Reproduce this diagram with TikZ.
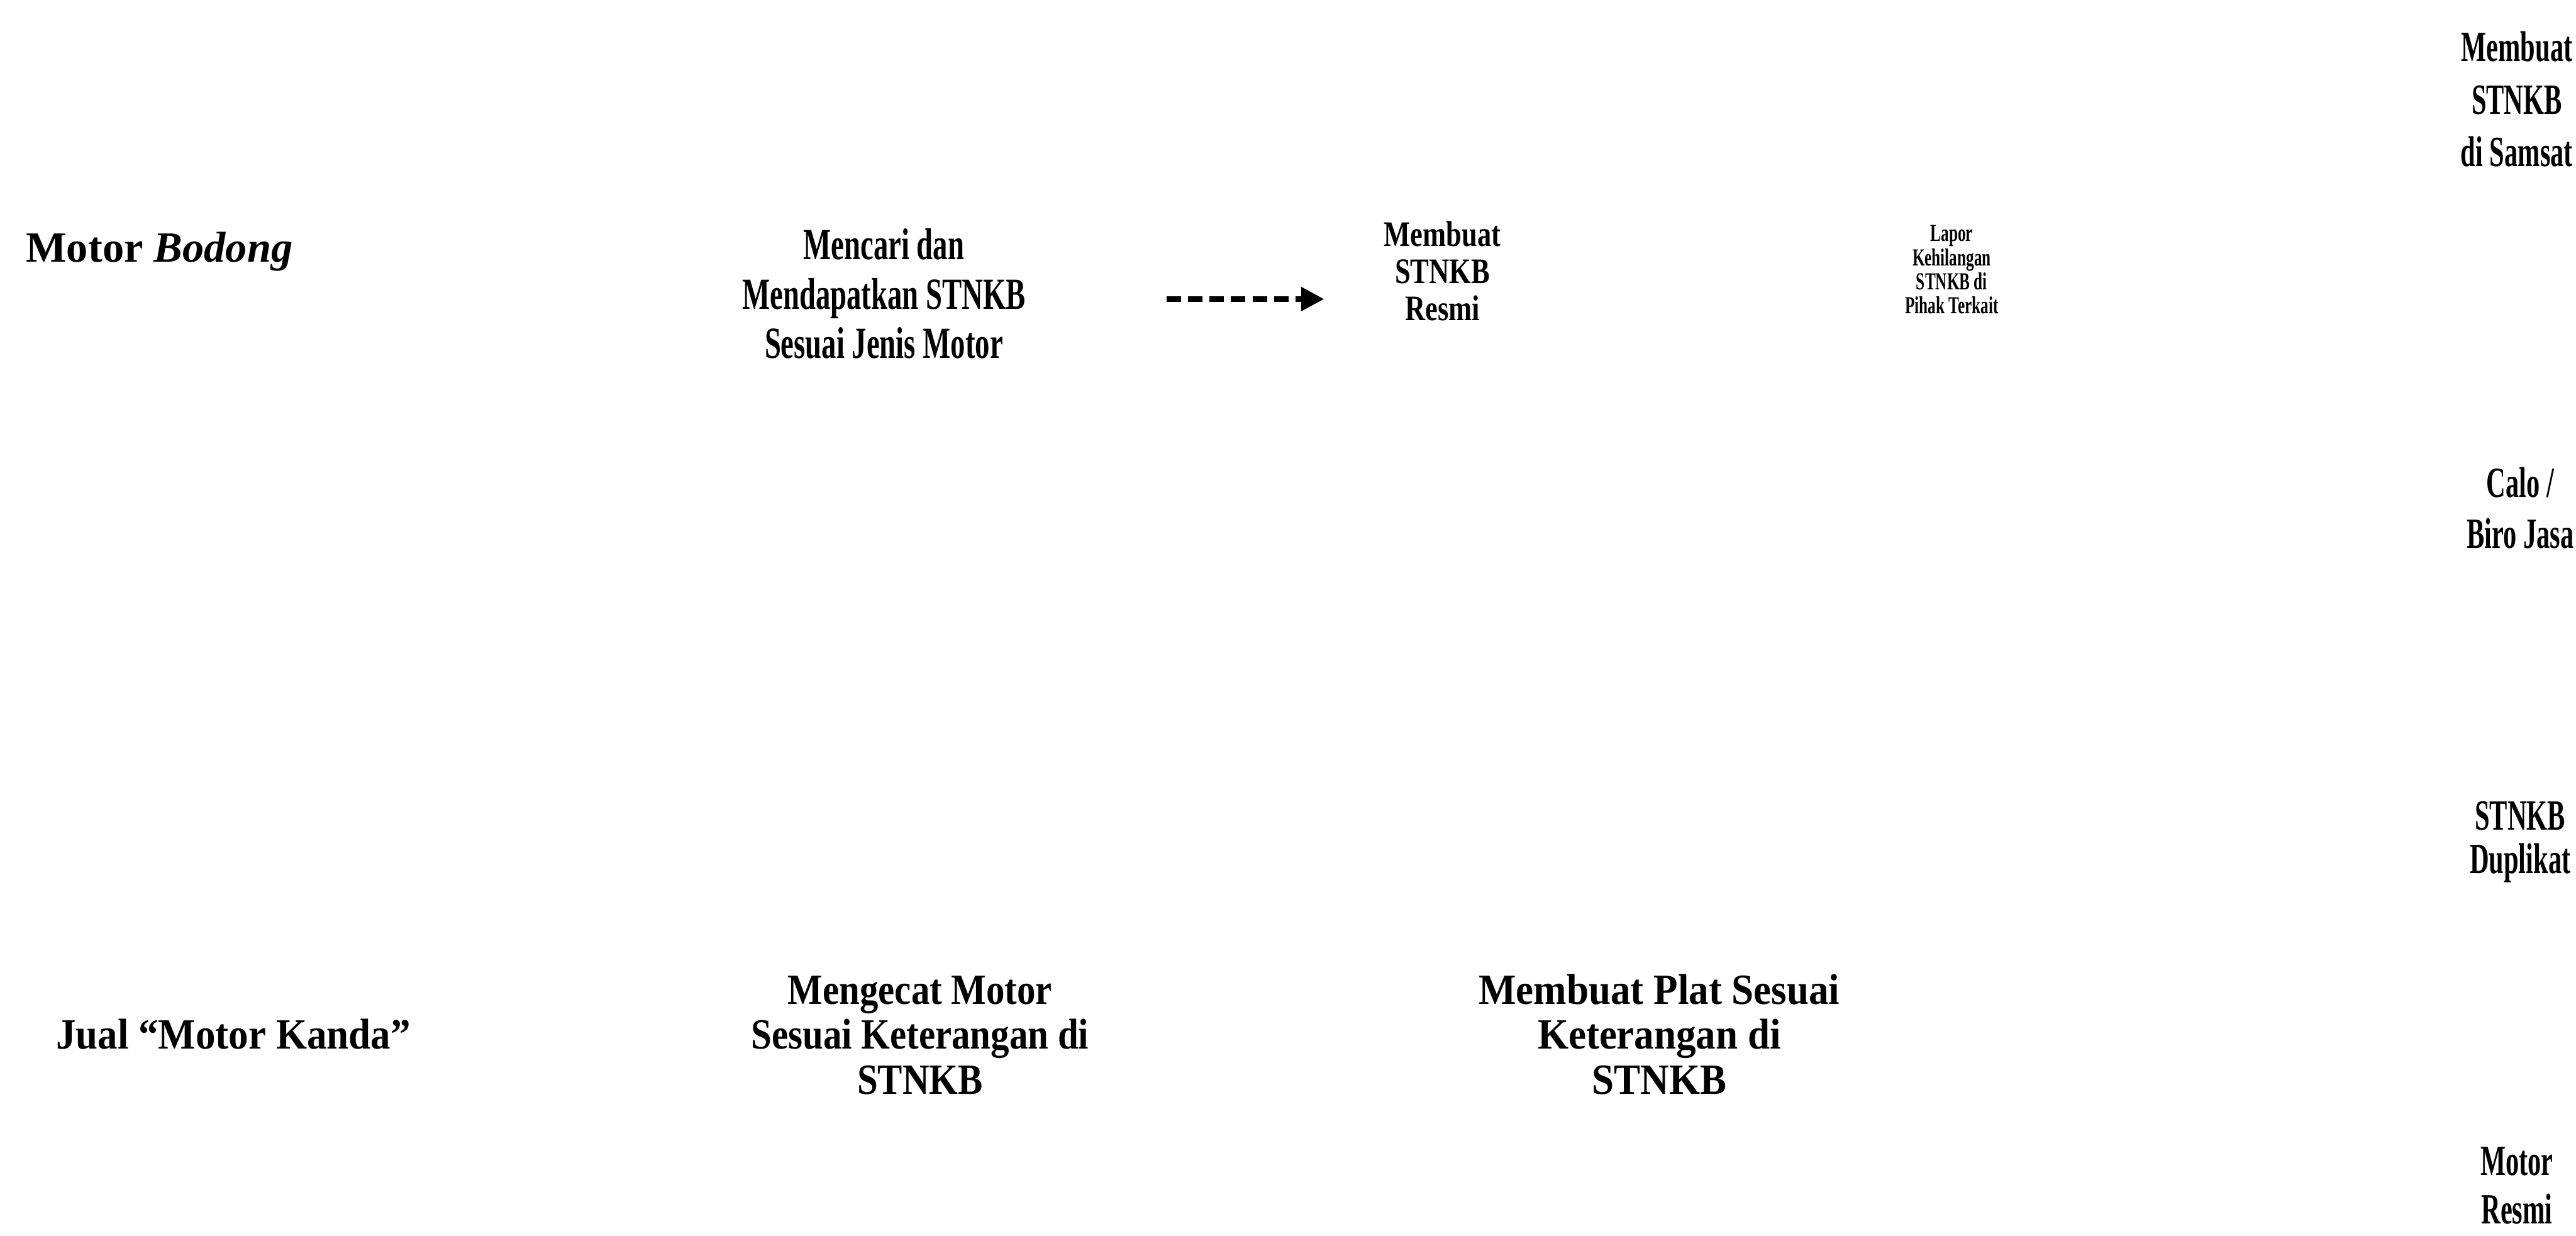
\documentclass[tikz,border=0pt]{standalone}
\usepackage{fontspec}
\usepackage{graphicx}
\setmainfont{Liberation Serif}
\usetikzlibrary{arrows.meta}

% horizontally condensed, centred block of lines
\newcommand{\sqz}[2]{\scalebox{#1}[1]{\begin{tabular}{@{}c@{}}#2\end{tabular}}}

\tikzset{
  lbl/.style={inner sep=0pt, text=black, font=\bfseries},
  flow/.style={line width=1.8pt, dash pattern=on 5pt off 2.5pt,
    -{Triangle[length=8pt,width=8pt]}}
}

\begin{document}
\begin{tikzpicture}[x=0.02011cm, y=-0.02011cm]
  \useasboundingbox[fill=white] (0,0) rectangle (1568,752);

  % upper row
  \node[lbl, font=\bfseries\fontsize{15}{18}\selectfont] (bodong) at (97,153)
    {Motor \textit{Bodong}};
  \node[lbl, font=\bfseries\fontsize{15.5}{17.2}\selectfont] (cari) at (538,182)
    {\sqz{0.66}{Mencari dan\\Mendapatkan STNKB\\Sesuai Jenis Motor}};
  \node[lbl, font=\bfseries\fontsize{12.5}{12.9}\selectfont] (resmi) at (878,168)
    {\sqz{0.78}{Membuat\\STNKB\\Resmi}};
  \node[lbl, font=\bfseries\fontsize{8.5}{8.3}\selectfont] (lapor) at (1188,166)
    {\sqz{0.65}{Lapor\\Kehilangan\\STNKB di\\Pihak Terkait}};

  \coordinate (a0) at (710,182);
  \coordinate (a1) at (806,182);
  \draw[flow] (a0) -- (a1);

  % right-hand column
  \node[lbl, font=\bfseries\fontsize{15}{18.3}\selectfont] (samsat) at (1532,63)
    {\sqz{0.62}{Membuat\\STNKB\\di Samsat}};
  \node[lbl, font=\bfseries\fontsize{15}{17.7}\selectfont] (calo) at (1534,312)
    {\sqz{0.62}{Calo /\\Biro Jasa}};
  \node[lbl, font=\bfseries\fontsize{15}{15}\selectfont] (duplikat) at (1534,513)
    {\sqz{0.62}{STNKB\\Duplikat}};
  \node[lbl, font=\bfseries\fontsize{15}{17}\selectfont] (motorresmi) at (1532,724)
    {\sqz{0.62}{Motor\\Resmi}};

  % lower row
  \node[lbl, font=\bfseries\fontsize{15}{18}\selectfont] (jual) at (142,632)
    {\sqz{0.92}{Jual “Motor Kanda”}};
  \node[lbl, font=\bfseries\fontsize{15}{15.7}\selectfont] (cat) at (560,633)
    {\sqz{0.86}{Mengecat Motor\\Sesuai Keterangan di\\STNKB}};
  \node[lbl, font=\bfseries\fontsize{15}{15.7}\selectfont] (plat) at (1010,633)
    {\sqz{0.92}{Membuat Plat Sesuai\\Keterangan di\\STNKB}};
\end{tikzpicture}
\end{document}
